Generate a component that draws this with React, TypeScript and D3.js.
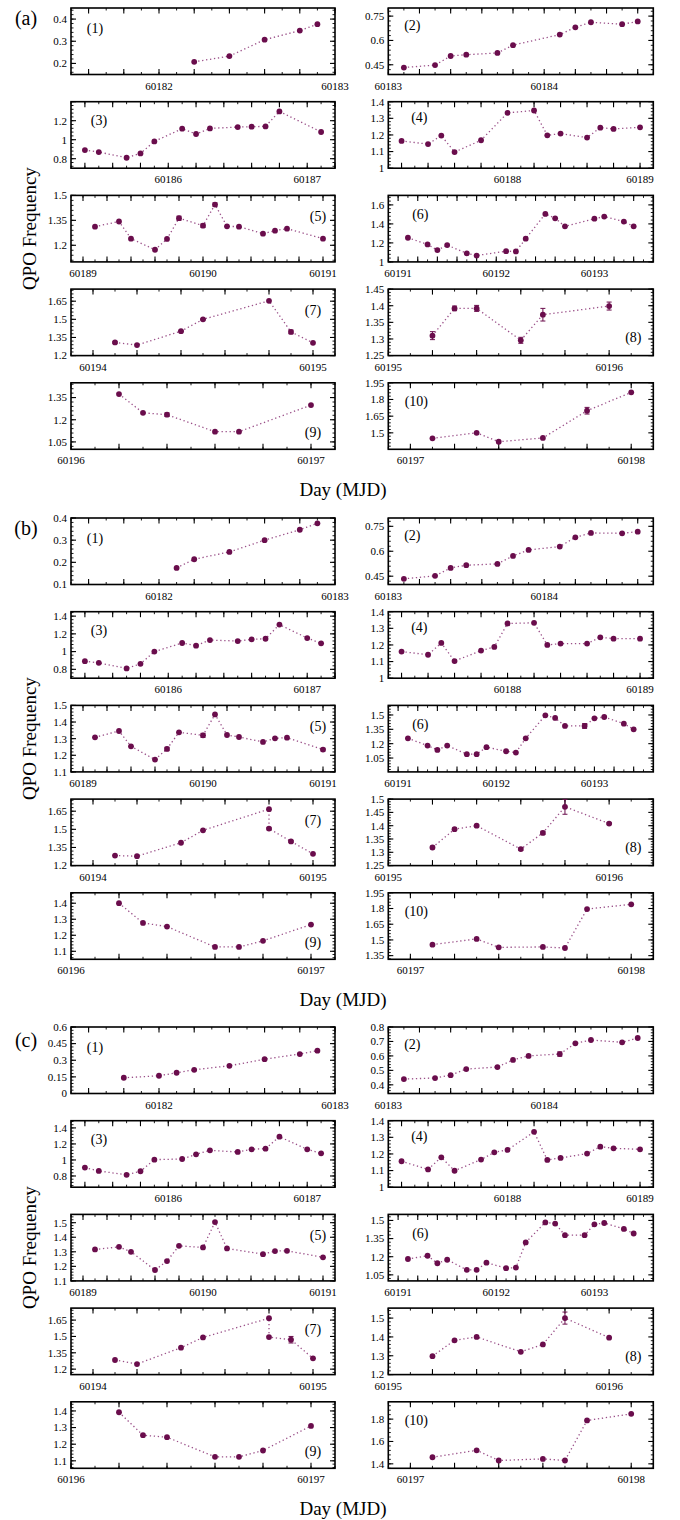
import React from 'react';
import * as d3 from 'd3';

// ---------------- DATA ----------------
// x tick labels (integer MJD) and x domains per panel position (1..10)
const xDomains: [number, number][] = [
  [60181.5, 60183], [60183, 60184.7], [60185.3, 60187.2], [60187.1, 60189.1], [60188.9, 60191.1],
  [60190.9, 60193.6], [60193.9, 60195.1], [60195, 60196.2], [60196, 60197.1], [60196.9, 60198.1],
];
const xTickLabels: number[][] = [
  [60182, 60183], [60183, 60184], [60186, 60187], [60188, 60189], [60189, 60190, 60191],
  [60191, 60192, 60193], [60194, 60195], [60195, 60196], [60196, 60197], [60197, 60198],
];
const panelNames = ['(1)', '(2)', '(3)', '(4)', '(5)', '(6)', '(7)', '(8)', '(9)', '(10)'];
const groupNames = ['(a)', '(b)', '(c)'];

// ---- group (a)
const a1x = [60182.2, 60182.4, 60182.6, 60182.8, 60182.9];
const a1y = [0.207, 0.233, 0.307, 0.348, 0.377];
const a2x = [60183.1, 60183.3, 60183.4, 60183.5, 60183.7, 60183.8, 60184.1, 60184.2, 60184.3, 60184.5, 60184.6];
const a2y = [0.433, 0.448, 0.504, 0.512, 0.523, 0.571, 0.636, 0.681, 0.712, 0.7, 0.717];
const a3x = [60185.4, 60185.5, 60185.7, 60185.8, 60185.9, 60186.1, 60186.2, 60186.3, 60186.5, 60186.6, 60186.7, 60186.8, 60187.1];
const a3y = [0.891, 0.87, 0.81, 0.856, 0.982, 1.116, 1.06, 1.119, 1.133, 1.137, 1.14, 1.298, 1.081];
const a4x = [60187.2, 60187.4, 60187.5, 60187.6, 60187.8, 60188.0, 60188.2, 60188.3, 60188.4, 60188.6, 60188.7, 60188.8, 60189.0];
const a4y = [1.164, 1.145, 1.196, 1.097, 1.168, 1.333, 1.347, 1.198, 1.208, 1.184, 1.244, 1.236, 1.246];
const a5x = [60189.1, 60189.3, 60189.4, 60189.6, 60189.7, 60189.8, 60190.0, 60190.1, 60190.2, 60190.3, 60190.5, 60190.6, 60190.7, 60191.0];
const a5y = [1.312, 1.343, 1.24, 1.173, 1.238, 1.363, 1.318, 1.445, 1.314, 1.312, 1.27, 1.288, 1.3, 1.24];
const a5e = [0, 0, 0, 0, 0, 0.012, 0.01, 0.01, 0, 0, 0, 0, 0, 0];
const a6x = [60191.1, 60191.3, 60191.4, 60191.5, 60191.7, 60191.8, 60192.1, 60192.2, 60192.3, 60192.5, 60192.6, 60192.7, 60193.0, 60193.1, 60193.3, 60193.4];
const a6y = [1.254, 1.184, 1.124, 1.177, 1.089, 1.067, 1.113, 1.11, 1.244, 1.505, 1.459, 1.374, 1.455, 1.477, 1.424, 1.374];
const a7x = [60194.1, 60194.2, 60194.4, 60194.5, 60194.8, 60194.9, 60195.0];
const a7y = [1.309, 1.287, 1.402, 1.5, 1.653, 1.396, 1.306];
const a7e = [0.008, 0, 0.006, 0.006, 0, 0.015, 0];
const a8x = [60195.2, 60195.3, 60195.4, 60195.6, 60195.7, 60196.0];
const a8y = [1.31, 1.392, 1.392, 1.296, 1.373, 1.399];
const a8e = [0.012, 0.007, 0.009, 0.009, 0.019, 0.012];
const a9x = [60196.2, 60196.3, 60196.4, 60196.6, 60196.7, 60197.0];
const a9y = [1.374, 1.247, 1.234, 1.119, 1.119, 1.299];
const a9e = [0, 0, 0.012, 0, 0, 0];
const a10x = [60197.1, 60197.3, 60197.4, 60197.6, 60197.8, 60198.0];
const a10y = [1.451, 1.5, 1.42, 1.454, 1.699, 1.864];
const a10e = [0, 0, 0, 0, 0.03, 0];

// ---- group (b)
const b1x = [60182.1, 60182.2, 60182.4, 60182.6, 60182.8, 60182.9];
const b1y = [0.175, 0.214, 0.247, 0.3, 0.347, 0.376];
const b2x = [60183.1, 60183.3, 60183.4, 60183.5, 60183.7, 60183.8, 60183.9, 60184.1, 60184.2, 60184.3, 60184.5, 60184.6];
const b2y = [0.434, 0.452, 0.5, 0.516, 0.524, 0.572, 0.608, 0.628, 0.684, 0.71, 0.708, 0.718];
const b3x = [60185.4, 60185.5, 60185.7, 60185.8, 60185.9, 60186.1, 60186.2, 60186.3, 60186.5, 60186.6, 60186.7, 60186.8, 60187.0, 60187.1];
const b3y = [0.892, 0.873, 0.81, 0.862, 1.0, 1.097, 1.067, 1.13, 1.119, 1.138, 1.145, 1.305, 1.153, 1.093];
const b4x = [60187.2, 60187.4, 60187.5, 60187.6, 60187.8, 60187.9, 60188.0, 60188.2, 60188.3, 60188.4, 60188.6, 60188.7, 60188.8, 60189.0];
const b4y = [1.16, 1.141, 1.212, 1.103, 1.166, 1.188, 1.329, 1.333, 1.2, 1.208, 1.208, 1.246, 1.238, 1.238];
const b5x = [60189.1, 60189.3, 60189.4, 60189.6, 60189.7, 60189.8, 60190.0, 60190.1, 60190.2, 60190.3, 60190.5, 60190.6, 60190.7, 60191.0];
const b5y = [1.308, 1.346, 1.254, 1.174, 1.238, 1.338, 1.32, 1.446, 1.322, 1.31, 1.28, 1.302, 1.306, 1.234];
const b5e = [0, 0, 0, 0, 0.01, 0, 0.012, 0, 0, 0, 0, 0, 0, 0.008];
const b6x = [60191.1, 60191.3, 60191.4, 60191.5, 60191.7, 60191.8, 60191.9, 60192.1, 60192.2, 60192.3, 60192.5, 60192.6, 60192.7, 60192.9, 60193.0, 60193.1, 60193.3, 60193.4];
const b6y = [1.256, 1.18, 1.135, 1.18, 1.09, 1.09, 1.163, 1.121, 1.107, 1.256, 1.496, 1.469, 1.385, 1.385, 1.465, 1.479, 1.409, 1.35];
const b6e = [0, 0, 0, 0, 0, 0, 0, 0, 0, 0, 0, 0, 0, 0.025, 0, 0, 0, 0];
const b7x = [60194.1, 60194.2, 60194.4, 60194.5, 60194.8, 60194.8, 60194.9, 60195.0];
const b7y = [1.283, 1.278, 1.389, 1.492, 1.667, 1.506, 1.4, 1.297];
const b7e = [0, 0, 0, 0, 0, 0.01, 0.008, 0];
const b8x = [60195.2, 60195.3, 60195.4, 60195.6, 60195.7, 60195.8, 60196.0];
const b8y = [1.318, 1.387, 1.4, 1.312, 1.373, 1.471, 1.408];
const b8e = [0.005, 0.004, 0.004, 0.005, 0.006, 0.028, 0.004];
const b9x = [60196.2, 60196.3, 60196.4, 60196.6, 60196.7, 60196.8, 60197.0];
const b9y = [1.4, 1.277, 1.254, 1.127, 1.127, 1.165, 1.267];
const b10x = [60197.1, 60197.3, 60197.4, 60197.6, 60197.7, 60197.8, 60198.0];
const b10y = [1.455, 1.51, 1.429, 1.433, 1.423, 1.795, 1.84];

// ---- group (c)
const c1x = [60181.8, 60182.0, 60182.1, 60182.2, 60182.4, 60182.6, 60182.8, 60182.9];
const c1y = [0.142, 0.16, 0.187, 0.214, 0.25, 0.31, 0.356, 0.386];
const c2x = [60183.1, 60183.3, 60183.4, 60183.5, 60183.7, 60183.8, 60183.9, 60184.1, 60184.2, 60184.3, 60184.5, 60184.6];
const c2y = [0.44, 0.447, 0.467, 0.509, 0.523, 0.572, 0.6, 0.613, 0.687, 0.71, 0.694, 0.724];
const c2e = [0, 0, 0, 0, 0, 0, 0, 0.015, 0, 0, 0, 0];
const c3x = [60185.4, 60185.5, 60185.7, 60185.8, 60185.9, 60186.1, 60186.2, 60186.3, 60186.5, 60186.6, 60186.7, 60186.8, 60187.0, 60187.1];
const c3y = [0.905, 0.863, 0.814, 0.859, 1.004, 1.012, 1.07, 1.12, 1.1, 1.133, 1.141, 1.29, 1.133, 1.083];
const c4x = [60187.2, 60187.4, 60187.5, 60187.6, 60187.8, 60187.9, 60188.0, 60188.2, 60188.3, 60188.4, 60188.6, 60188.7, 60188.8, 60189.0];
const c4y = [1.156, 1.107, 1.18, 1.099, 1.166, 1.21, 1.224, 1.333, 1.164, 1.176, 1.202, 1.244, 1.234, 1.228];
const c5x = [60189.1, 60189.3, 60189.4, 60189.6, 60189.7, 60189.8, 60190.0, 60190.1, 60190.2, 60190.5, 60190.6, 60190.7, 60191.0];
const c5y = [1.316, 1.334, 1.3, 1.175, 1.236, 1.341, 1.33, 1.504, 1.323, 1.284, 1.305, 1.307, 1.262];
const c6x = [60191.1, 60191.3, 60191.4, 60191.5, 60191.7, 60191.8, 60191.9, 60192.1, 60192.2, 60192.3, 60192.5, 60192.6, 60192.7, 60192.9, 60193.0, 60193.1, 60193.3, 60193.4];
const c6y = [1.181, 1.208, 1.146, 1.175, 1.091, 1.091, 1.151, 1.105, 1.11, 1.318, 1.484, 1.474, 1.378, 1.378, 1.468, 1.479, 1.43, 1.392];
const c7x = [60194.1, 60194.2, 60194.4, 60194.5, 60194.8, 60194.8, 60194.9, 60195.0];
const c7y = [1.284, 1.247, 1.397, 1.491, 1.667, 1.494, 1.47, 1.299];
const c7e = [0, 0, 0, 0, 0, 0, 0.03, 0];
const c8x = [60195.2, 60195.3, 60195.4, 60195.6, 60195.7, 60195.8, 60196.0];
const c8y = [1.298, 1.382, 1.4, 1.321, 1.36, 1.5, 1.396];
const c8e = [0, 0, 0, 0, 0, 0.032, 0];
const c9x = [60196.2, 60196.3, 60196.4, 60196.6, 60196.7, 60196.8, 60197.0];
const c9y = [1.392, 1.254, 1.242, 1.124, 1.124, 1.162, 1.31];
const c10x = [60197.1, 60197.3, 60197.4, 60197.6, 60197.7, 60197.8, 60198.0];
const c10y = [1.459, 1.521, 1.43, 1.444, 1.43, 1.788, 1.847];

// y domains and labelled y ticks
const aYDomains: [number, number][] = [[0.15, 0.45], [0.39, 0.8], [0.7, 1.4], [1, 1.4], [1.1, 1.5], [1, 1.7], [1.2, 1.75], [1.25, 1.45], [1.0, 1.45], [1.352, 1.95]];
const aYTicks = [[0.2, 0.3, 0.4], [0.45, 0.6, 0.75], [0.8, 1, 1.2], [1, 1.1, 1.2, 1.3, 1.4], [1.2, 1.35, 1.5], [1, 1.2, 1.4, 1.6], [1.2, 1.35, 1.5, 1.65], [1.25, 1.3, 1.35, 1.4, 1.45], [1.05, 1.2, 1.35], [1.5, 1.65, 1.8, 1.95]];
const bYDomains: [number, number][] = [[0.1, 0.4], [0.4, 0.8], [0.7, 1.45], [1, 1.4], [1.1, 1.5], [0.905, 1.6], [1.2, 1.75], [1.25, 1.5], [1.05, 1.465], [1.315, 1.95]];
const bYTicks = [[0.1, 0.2, 0.3, 0.4], [0.45, 0.6, 0.75], [0.8, 1, 1.2, 1.4], [1, 1.1, 1.2, 1.3, 1.4], [1.1, 1.2, 1.3, 1.4, 1.5], [1.05, 1.2, 1.35, 1.5], [1.2, 1.35, 1.5, 1.65], [1.25, 1.3, 1.35, 1.4, 1.45, 1.5], [1.1, 1.2, 1.3, 1.4], [1.35, 1.5, 1.65, 1.8, 1.95]];
const cYDomains: [number, number][] = [[0, 0.6], [0.34, 0.8], [0.66, 1.49], [1, 1.4], [1.1, 1.557], [1.0, 1.55], [1.15, 1.76], [1.2, 1.553], [1.055, 1.455], [1.36, 1.955]];
const cYTicks = [[0, 0.15, 0.3, 0.45, 0.6], [0.4, 0.5, 0.6, 0.7, 0.8], [0.8, 1, 1.2, 1.4], [1, 1.1, 1.2, 1.3, 1.4], [1.1, 1.2, 1.3, 1.4, 1.5], [1.05, 1.2, 1.35, 1.5], [1.2, 1.35, 1.5, 1.65], [1.2, 1.3, 1.4, 1.5], [1.1, 1.2, 1.3, 1.4], [1.4, 1.6, 1.8]];

const groupX = [
  [a1x, a2x, a3x, a4x, a5x, a6x, a7x, a8x, a9x, a10x],
  [b1x, b2x, b3x, b4x, b5x, b6x, b7x, b8x, b9x, b10x],
  [c1x, c2x, c3x, c4x, c5x, c6x, c7x, c8x, c9x, c10x],
];
const groupY = [
  [a1y, a2y, a3y, a4y, a5y, a6y, a7y, a8y, a9y, a10y],
  [b1y, b2y, b3y, b4y, b5y, b6y, b7y, b8y, b9y, b10y],
  [c1y, c2y, c3y, c4y, c5y, c6y, c7y, c8y, c9y, c10y],
];
const groupE: (number[] | null)[][] = [
  [null, null, null, null, a5e, null, a7e, a8e, a9e, a10e],
  [null, null, null, null, b5e, b6e, b7e, b8e, null, null],
  [null, c2e, null, null, null, null, c7e, c8e, null, null],
];
const groupYD = [aYDomains, bYDomains, cYDomains];
const groupYT = [aYTicks, bYTicks, cYTicks];

// ---------------- LAYOUT ----------------
const FONT = '"Liberation Serif", "Times New Roman", serif';
const MARK = '#6a0d4c';
const LINE = '#9a4f88';
const COLX = [71, 388.3];
const COLW = [264, 265];
const GTOP = [8, 518, 1027];
const PITCH = 93.7;
const PH = 66.5;
const GLABEL_Y = [18, 528, 1040];
// label placement: [anchor corner, dx, dy]
const LPOS: [string, number, number][] = [
  ['tl', 24, 20], ['tl', 24, 17], ['tl', 28, 18], ['tl', 31, 15], ['tr', -17, 21],
  ['tl', 32, 19], ['tr', -22, 21], ['br', -20, -19], ['br', -22, -17], ['tl', 28, 18],
];

function fmt(v: number) {
  return String(+v.toFixed(3));
}

function Panel({ g, i }: { g: number; i: number }) {
  const col = i % 2;
  const row = Math.floor(i / 2);
  const x0 = COLX[col];
  const w = COLW[col];
  const y0 = GTOP[g] + row * PITCH;
  const h = PH;
  const xd = xDomains[i];
  const yd = groupYD[g][i];
  const yt = groupYT[g][i];
  const xs = d3.scaleLinear().domain(xd).range([x0, x0 + w]);
  const ys = d3.scaleLinear().domain(yd).range([y0 + h, y0]);
  const xv = groupX[g][i];
  const yv = groupY[g][i];
  const ev = groupE[g][i];
  const pts = xv.map((x, k) => ({ x, y: yv[k], e: ev ? ev[k] : 0 }));
  const line = d3.line<{ x: number; y: number }>().x(d => xs(d.x)).y(d => ys(d.y));

  const xMaj = d3.range(Math.ceil(xd[0] * 5 - 1e-6), Math.floor(xd[1] * 5 + 1e-6) + 1).map(k => k / 5);
  const xMin = d3.range(Math.ceil(xd[0] * 10 - 1e-6), Math.floor(xd[1] * 10 + 1e-6) + 1).map(k => k / 10);
  const step = yt[1] - yt[0];
  const mstep = step / 5;
  const yMin = d3.range(Math.ceil(yd[0] / mstep - 1e-6), Math.floor(yd[1] / mstep + 1e-6) + 1).map(k => k * mstep);
  const yMaj = d3.range(Math.ceil(yd[0] / step - 1e-6), Math.floor(yd[1] / step + 1e-6) + 1).map(k => k * step);

  const [corner, dx, dy] = LPOS[i];
  const lx = corner === 'tl' ? x0 + dx : x0 + w + dx;
  const ly = corner === 'br' ? y0 + h + dy : y0 + dy;

  return (
    <g>
      {/* ticks */}
      {xMin.map((t, k) => (
        <g key={'xm' + k}>
          <line x1={xs(t)} x2={xs(t)} y1={y0 + h} y2={y0 + h - 2.5} stroke="#000" strokeWidth={0.9} />
          <line x1={xs(t)} x2={xs(t)} y1={y0} y2={y0 + 2.5} stroke="#000" strokeWidth={0.9} />
        </g>
      ))}
      {xMaj.map((t, k) => (
        <g key={'xM' + k}>
          <line x1={xs(t)} x2={xs(t)} y1={y0 + h} y2={y0 + h - 5.5} stroke="#000" strokeWidth={1.1} />
          <line x1={xs(t)} x2={xs(t)} y1={y0} y2={y0 + 5.5} stroke="#000" strokeWidth={1.1} />
        </g>
      ))}
      {yMin.map((t, k) => (
        <g key={'ym' + k}>
          <line x1={x0} x2={x0 + 2.5} y1={ys(t)} y2={ys(t)} stroke="#000" strokeWidth={0.9} />
          <line x1={x0 + w} x2={x0 + w - 2.5} y1={ys(t)} y2={ys(t)} stroke="#000" strokeWidth={0.9} />
        </g>
      ))}
      {yMaj.map((t, k) => (
        <g key={'yM' + k}>
          <line x1={x0} x2={x0 + 5} y1={ys(t)} y2={ys(t)} stroke="#000" strokeWidth={1.1} />
          <line x1={x0 + w} x2={x0 + w - 5} y1={ys(t)} y2={ys(t)} stroke="#000" strokeWidth={1.1} />
        </g>
      ))}
      <rect x={x0} y={y0} width={w} height={h} fill="none" stroke="#000" strokeWidth={1.6} />
      {/* tick labels */}
      {xTickLabels[i].map(t => (
        <text key={'xl' + t} x={xs(t)} y={y0 + h + 15} textAnchor="middle" fontSize={11} fontFamily={FONT}>{t}</text>
      ))}
      {yt.map(t => (
        <text key={'yl' + t} x={x0 - 4} y={ys(t)} dy="0.35em" textAnchor="end" fontSize={11} fontFamily={FONT}>{fmt(t)}</text>
      ))}
      {/* data */}
      <path d={line(pts) || ''} fill="none" stroke={LINE} strokeWidth={1.3} strokeDasharray="1.3,2.7" />
      {pts.filter(p => p.e > 0).map((p, k) => (
        <g key={'e' + k} stroke={MARK} strokeWidth={1}>
          <line x1={xs(p.x)} x2={xs(p.x)} y1={ys(p.y - p.e)} y2={ys(p.y + p.e)} />
          <line x1={xs(p.x) - 2.5} x2={xs(p.x) + 2.5} y1={ys(p.y - p.e)} y2={ys(p.y - p.e)} />
          <line x1={xs(p.x) - 2.5} x2={xs(p.x) + 2.5} y1={ys(p.y + p.e)} y2={ys(p.y + p.e)} />
        </g>
      ))}
      {pts.map((p, k) => (
        <circle key={'c' + k} cx={xs(p.x)} cy={ys(p.y)} r={2.9} fill={MARK} />
      ))}
      <text x={lx} y={ly} dy="0.35em" textAnchor="middle" fontSize={14} fontFamily={FONT}>{panelNames[i]}</text>
    </g>
  );
}

export default function App() {
  return (
    <svg width={680} height={1520} style={{ position: 'absolute', left: 0, top: 0, background: '#fff' }}>
      <rect x={0} y={0} width={680} height={1520} fill="#fff" />
      {[0, 1, 2].map(g => (
        <g key={g}>
          <text x={26} y={GLABEL_Y[g]} dy="0.35em" textAnchor="middle" fontSize={20} fontFamily={FONT}>{groupNames[g]}</text>
          {d3.range(10).map(i => <Panel key={i} g={g} i={i} />)}
          <text transform={`translate(29,${GTOP[g] + (4 * PITCH + PH) / 2}) rotate(-90)`} dy="0.35em" textAnchor="middle" fontSize={19} fontFamily={FONT}>QPO Frequency</text>
          <text x={343} y={GTOP[g] + 4 * PITCH + PH + 40} dy="0.35em" textAnchor="middle" fontSize={19} fontFamily={FONT}>Day (MJD)</text>
        </g>
      ))}
    </svg>
  );
}
